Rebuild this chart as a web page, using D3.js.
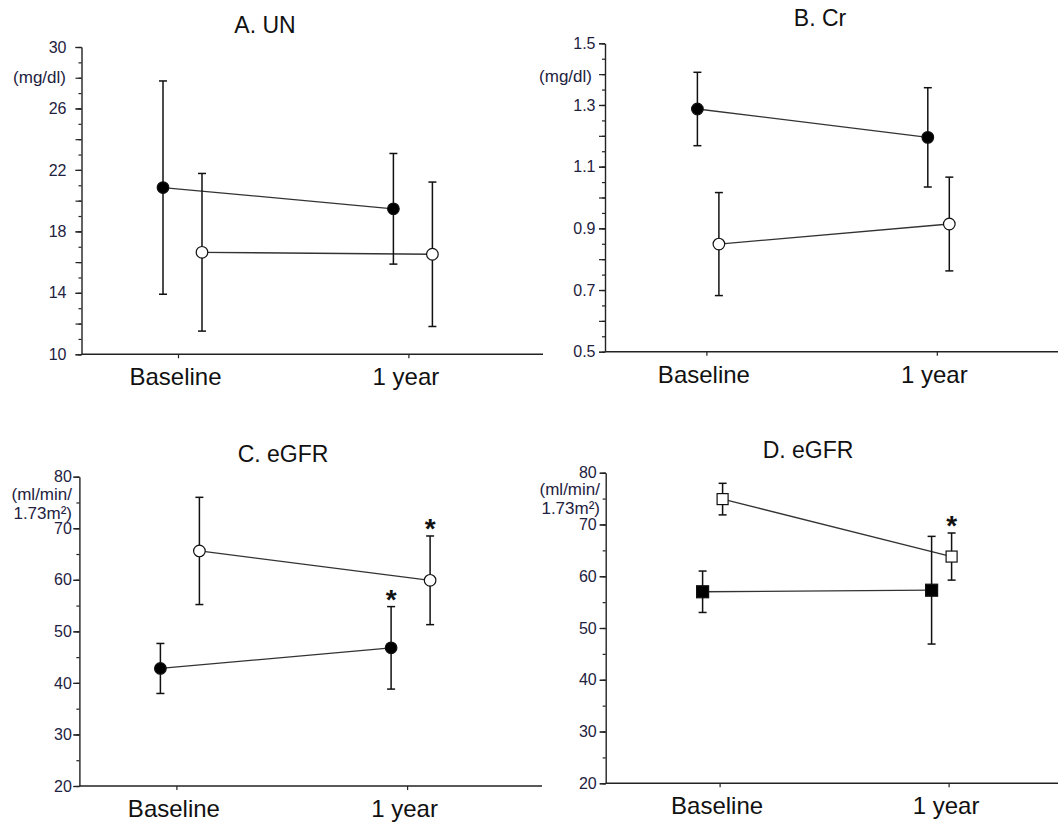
<!DOCTYPE html>
<html>
<head>
<meta charset="utf-8">
<script src="https://cdn.jsdelivr.net/npm/d3@7"></script>
<style>
  body { margin: 0; background: #fff; }
  svg { display: block; font-family: Arial, "Liberation Sans", sans-serif; }
</style>
</head>
<body>
<svg id="chart"></svg>
<script>
// Page size.
const width = 1058;
const height = 824;

// Time points on the x axis.
const timepoints = ['Baseline', '1 year'];

// A. UN (mg/dl): mean and SD.
const unClosedMean = [20.85, 19.47];
const unClosedSd = [6.94, 3.6];
const unOpenMean = [16.64, 16.51];
const unOpenSd = [5.13, 4.7];
const unTicks = [10, 14, 18, 22, 26, 30];

// B. Cr (mg/dl).
const crClosedMean = [1.287, 1.195];
const crClosedSd = [0.119, 0.161];
const crOpenMean = [0.849, 0.914];
const crOpenSd = [0.167, 0.152];
const crTicks = [0.5, 0.7, 0.9, 1.1, 1.3, 1.5];

// C. eGFR (ml/min/1.73m2).
const egfrClosedMean = [42.8, 46.8];
const egfrClosedSd = [4.85, 8.0];
const egfrClosedSig = [false, true];
const egfrOpenMean = [65.6, 59.9];
const egfrOpenSd = [10.4, 8.6];
const egfrOpenSig = [false, true];
const egfrTicks = [20, 30, 40, 50, 60, 70, 80];

// D. eGFR, second grouping (squares).
const egfr2ClosedMean = [57.0, 57.3];
const egfr2ClosedSd = [4.0, 10.4];
const egfr2ClosedSig = [false, false];
const egfr2OpenMean = [74.9, 63.8];
const egfr2OpenSd = [3.05, 4.55];
const egfr2OpenSig = [false, true];

const svg = d3.select('#chart')
    .attr('width', width)
    .attr('height', height);

const tickColor = '#1e2240';
const lineColor = '#333';

// Panel layouts.
const panels = [
  {
    title: 'A. UN', titleX: 265, titleY: 33,
    left: 81.5, top: 47, bottom: 354.3, xEnd: 543, xBase: 178, xYear: 408.4,
    domain: [10, 30], minor: 1, major: 2, ticks: unTicks, fmt: d3.format('d'), pad: 9,
    unit: ['(mg/dl)'], unitX: 66, unitY: [83],
    series: [
      {mean: unClosedMean, sd: unClosedSd, filled: true, shape: 'circle', dx: -15},
      {mean: unOpenMean, sd: unOpenSd, filled: false, shape: 'circle', dx: 24}
    ]
  },
  {
    title: 'B. Cr', titleX: 820, titleY: 26,
    left: 605, top: 43.3, bottom: 351.7, xEnd: 1058, xBase: 706.4, xYear: 936.8,
    domain: [0.5, 1.5], minor: 0.05, major: 0.1, ticks: crTicks, fmt: d3.format('.1f'), pad: 3.5,
    unit: ['(mg/dl)'], unitX: 592, unitY: [82],
    series: [
      {mean: crClosedMean, sd: crClosedSd, filled: true, shape: 'circle', dx: -9},
      {mean: crOpenMean, sd: crOpenSd, filled: false, shape: 'circle', dx: 12.5}
    ]
  },
  {
    title: 'C. eGFR', titleX: 283, titleY: 461.5,
    left: 79.4, top: 476.7, bottom: 786, xEnd: 542, xBase: 176.4, xYear: 407.1,
    domain: [20, 80], minor: 5, major: 10, ticks: egfrTicks, fmt: d3.format('d'), pad: 1.5,
    unit: ['(ml/min/', '1.73m²)'], unitX: 72, unitY: [500, 519],
    series: [
      {mean: egfrClosedMean, sd: egfrClosedSd, sig: egfrClosedSig, filled: true, shape: 'circle', dx: -16},
      {mean: egfrOpenMean, sd: egfrOpenSd, sig: egfrOpenSig, filled: false, shape: 'circle', dx: 23}
    ]
  },
  {
    title: 'D. eGFR', titleX: 808, titleY: 458,
    left: 605.7, top: 472.7, bottom: 783.3, xEnd: 1058, xBase: 719.6, xYear: 948.6,
    domain: [20, 80], minor: 5, major: 10, ticks: egfrTicks, fmt: d3.format('d'), pad: 3,
    unit: ['(ml/min/', '1.73m²)'], unitX: 600, unitY: [495, 514],
    series: [
      {mean: egfr2ClosedMean, sd: egfr2ClosedSd, sig: egfr2ClosedSig, filled: true, shape: 'square', dx: -17},
      {mean: egfr2OpenMean, sd: egfr2OpenSd, sig: egfr2OpenSig, filled: false, shape: 'square', dx: 3}
    ]
  }
];

panels.forEach(drawPanel);

// Draws one panel.
function drawPanel(p) {
  const g = svg.append('g');

  const x = d3.scalePoint().domain(timepoints).range([p.xBase, p.xYear]);
  const y = d3.scaleLinear().domain(p.domain).range([p.bottom, p.top]);

  const steps = (step) => d3.range(0, Math.round((p.domain[1] - p.domain[0]) / step) + 1)
      .map(i => p.domain[0] + i * step);

  // Minor ticks.
  g.append('g')
      .attr('transform', `translate(${p.left},0)`)
      .call(d3.axisLeft(y).tickValues(steps(p.minor)).tickSize(3).tickFormat(''))
      .call(a => a.select('.domain').remove())
      .call(a => a.selectAll('line').attr('stroke', '#222').attr('stroke-width', 1.2));

  // Major ticks.
  g.append('g')
      .attr('transform', `translate(${p.left},0)`)
      .call(d3.axisLeft(y).tickValues(steps(p.major)).tickSize(6).tickFormat(''))
      .call(a => a.select('.domain').remove())
      .call(a => a.selectAll('line').attr('stroke', '#222').attr('stroke-width', 1.2));

  // Labelled y axis.
  g.append('g')
      .attr('transform', `translate(${p.left},0)`)
      .call(d3.axisLeft(y).tickValues(p.ticks).tickSize(6).tickSizeOuter(0)
          .tickPadding(p.pad).tickFormat(p.fmt))
      .call(a => a.select('.domain').attr('stroke', '#222').attr('stroke-width', 1.4))
      .call(a => a.selectAll('line').attr('stroke', '#222').attr('stroke-width', 1.2))
      .call(a => a.selectAll('text')
          .attr('font-size', 16)
          .attr('font-family', 'Arial, "Liberation Sans", sans-serif')
          .attr('fill', tickColor));

  // Unit label.
  g.append('text')
      .attr('text-anchor', 'end')
      .attr('font-size', 17)
      .attr('fill', tickColor)
      .selectAll('tspan').data(p.unit).join('tspan')
      .attr('x', p.unitX)
      .attr('y', (d, i) => p.unitY[i])
      .text(d => d);

  // X axis line.
  g.append('line')
      .attr('x1', p.left).attr('x2', p.xEnd)
      .attr('y1', p.bottom).attr('y2', p.bottom)
      .attr('stroke', '#222').attr('stroke-width', 1.4);

  // X ticks and labels.
  g.append('g')
      .attr('transform', `translate(0,${p.bottom})`)
      .call(d3.axisBottom(x).tickSize(4).tickSizeOuter(0).tickPadding(10))
      .call(a => a.select('.domain').remove())
      .call(a => a.selectAll('line').attr('stroke', '#222').attr('stroke-width', 1.2))
      .call(a => a.selectAll('text')
          .attr('font-size', 24)
          .attr('dx', -3)
          .attr('font-family', 'Arial, "Liberation Sans", sans-serif')
          .attr('fill', '#111'));

  // Title.
  g.append('text')
      .attr('x', p.titleX)
      .attr('y', p.titleY)
      .attr('text-anchor', 'middle')
      .attr('font-size', 23)
      .attr('fill', '#111')
      .text(p.title);

  // Connecting lines.
  p.series.forEach(s => {
    const pts = timepoints.map((t, i) => [x(t) + s.dx, y(s.mean[i])]);
    g.append('path')
        .attr('d', d3.line()(pts))
        .attr('fill', 'none')
        .attr('stroke', lineColor)
        .attr('stroke-width', 1.3);
  });

  // Error bars (mean ± SD).
  p.series.forEach(s => {
    timepoints.forEach((t, i) => {
      const cx = x(t) + s.dx;
      const hi = y(s.mean[i] + s.sd[i]);
      const lo = y(s.mean[i] - s.sd[i]);
      const eg = g.append('g').attr('stroke', '#111').attr('stroke-width', 1.5);
      eg.append('line').attr('x1', cx).attr('x2', cx).attr('y1', hi).attr('y2', lo);
      eg.append('line').attr('x1', cx - 4).attr('x2', cx + 4).attr('y1', hi).attr('y2', hi);
      eg.append('line').attr('x1', cx - 4).attr('x2', cx + 4).attr('y1', lo).attr('y2', lo);

      // Significance marker.
      if (s.sig && s.sig[i]) {
        g.append('text')
            .attr('x', cx)
            .attr('y', hi + 2)
            .attr('text-anchor', 'middle')
            .attr('font-size', 28)
            .attr('font-weight', 'bold')
            .attr('fill', '#111')
            .text('*');
      }
    });
  });

  // Markers.
  p.series.forEach(s => {
    timepoints.forEach((t, i) => {
      const cx = x(t) + s.dx;
      const cy = y(s.mean[i]);
      if (s.shape === 'circle') {
        g.append('circle')
            .attr('cx', cx).attr('cy', cy).attr('r', 5.8)
            .attr('fill', s.filled ? '#000' : '#fff')
            .attr('stroke', '#111').attr('stroke-width', 1.2);
      } else {
        const size = s.filled ? 12 : 11;
        g.append('rect')
            .attr('x', cx - size / 2).attr('y', cy - size / 2)
            .attr('width', size).attr('height', size)
            .attr('fill', s.filled ? '#000' : '#fff')
            .attr('stroke', '#111').attr('stroke-width', 1.2);
      }
    });
  });
}
</script>
</body>
</html>
